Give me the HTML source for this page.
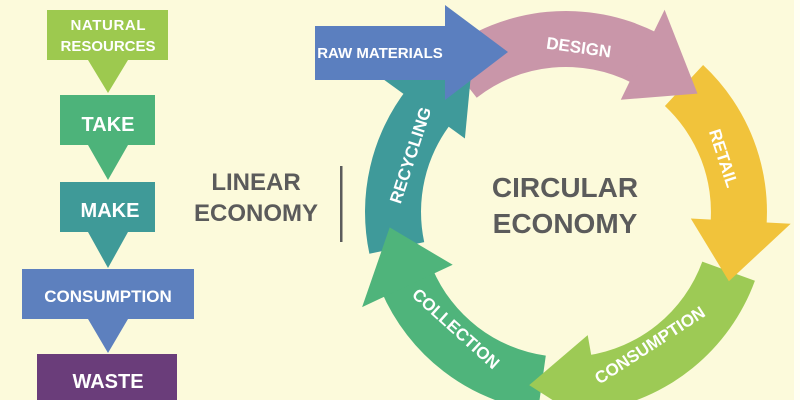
<!DOCTYPE html>
<html><head><meta charset="utf-8"><style>
html,body{margin:0;padding:0;background:#fcfadb;width:800px;height:400px;overflow:hidden;}
svg{display:block}
text{font-family:"Liberation Sans",sans-serif;font-weight:bold}
</style></head><body>
<svg id="s" width="800" height="400" viewBox="0 0 800 400" xmlns="http://www.w3.org/2000/svg">
<rect width="800" height="400" fill="#fcfadb"/>
<rect x="794" y="0" width="6" height="400" fill="#fffff4"/>
<polygon points="47,10 168,10 168,60 128,60 108,93 88,60 47,60" fill="#9dc94f"/>
<polygon points="60,95 155,95 155,145 128,145 108,180 88,145 60,145" fill="#4db37a"/>
<polygon points="60,182 155,182 155,232 128,232 108,268 88,232 60,232" fill="#3f9a98"/>
<polygon points="22,269 194,269 194,319 128,319 108,353 88,319 22,319" fill="#5d80be"/>
<rect x="37" y="354" width="140" height="46" fill="#6a3d7a"/>
<g fill="#fff" text-anchor="middle">
<text x="108" y="30" font-size="15" textLength="75">NATURAL</text>
<text x="108" y="51" font-size="15">RESOURCES</text>
<text x="108" y="131" font-size="20">TAKE</text>
<text x="110" y="217" font-size="20">MAKE</text>
<text x="108" y="302" font-size="17">CONSUMPTION</text>
<text x="108" y="388" font-size="20">WASTE</text>
</g>
<g fill="#5b5b5b" text-anchor="middle">
<text x="256" y="190" font-size="24">LINEAR</text>
<text x="256" y="221" font-size="24">ECONOMY</text>
<text x="565" y="197" font-size="28">CIRCULAR</text>
<text x="565" y="233" font-size="28">ECONOMY</text>
</g>
<rect x="340" y="166" width="2.5" height="76" fill="#5b5b5b"/>
<g id="ring"></g>
<polygon points="315,26 445,26 445,5 508,52 445,100 445,80 315,80" fill="#5b7fbf"/>
<text x="380" y="58" font-size="15" fill="#fff" text-anchor="middle">RAW MATERIALS</text>
<g fill="#fff" font-size="17" text-anchor="middle">
<text transform="translate(578,53) rotate(8)">DESIGN</text>
<text transform="translate(718,160) rotate(72)">RETAIL</text>
<text transform="translate(653,350) rotate(-33)">CONSUMPTION</text>
<text transform="translate(452,333) rotate(42)">COLLECTION</text>
<text transform="translate(416,157) rotate(-72)">RECYCLING</text>
</g>
</svg>
<script>
(function(){
var cx=566,cy=212,ri=145,ro=201,rm=(ri+ro)/2;
function p(a,r){var t=a*Math.PI/180;return (cx+r*Math.cos(t)).toFixed(1)+","+(cy+r*Math.sin(t)).toFixed(1);}
var segs=[
 {a:-128,b:-63,h:-64,t:-42,c:"#c996a9"},
 {a:-47,b:5,h:3,t:23,c:"#f1c33b"},
 {a:20,b:82,h:80,t:102,c:"#9dca55"},
 {a:98,b:157,h:155,t:175,c:"#4fb47b"},
 {a:168,b:218,h:216,t:238,c:"#3f9a9a"}
];
var g=document.getElementById("ring"),bands="",heads="";
segs.forEach(function(s){
 bands+='<path fill="'+s.c+'" d="M'+p(s.a,ro)+' A'+ro+','+ro+' 0 0 1 '+p(s.b,ro)+' L'+p(s.b,ri)+' A'+ri+','+ri+' 0 0 0 '+p(s.a,ri)+' Z"/>';
 heads+='<polygon fill="'+s.c+'" points="'+p(s.h,rm+52)+' '+p(s.t,rm+4)+' '+p(s.h,rm-48)+'"/>';
});
g.innerHTML=bands+heads;
})();
</script>
</body></html>
